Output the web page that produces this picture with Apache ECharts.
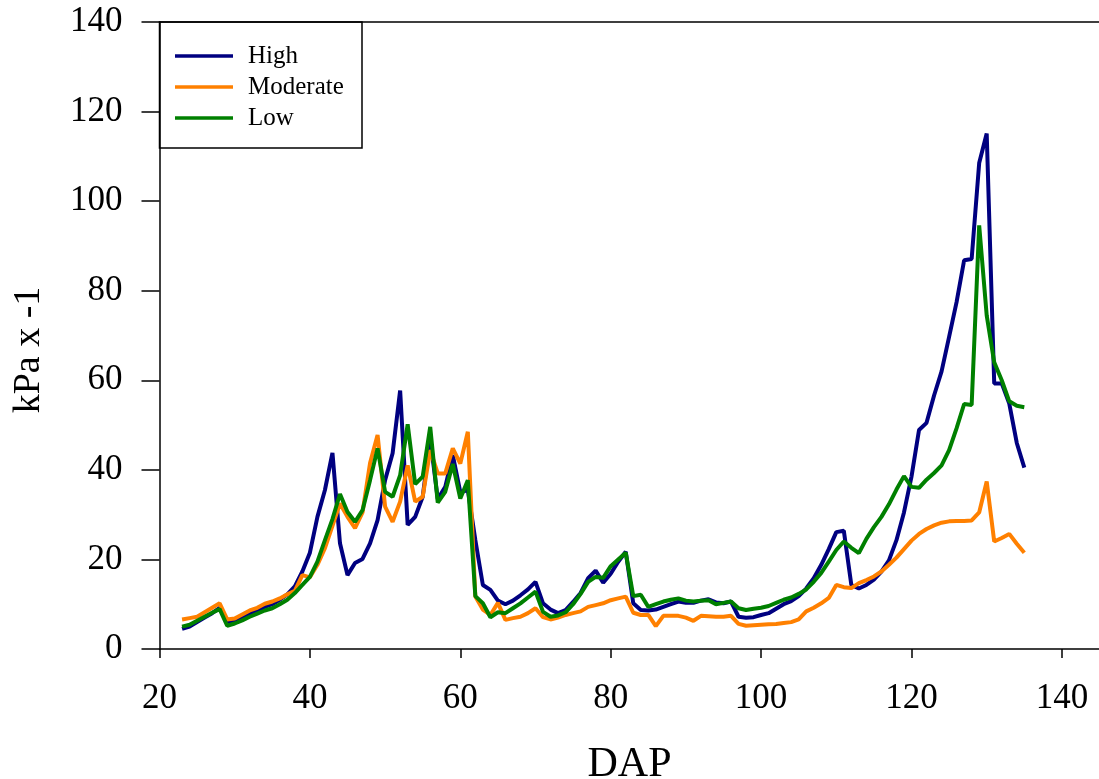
<!DOCTYPE html>
<html>
<head>
<meta charset="utf-8">
<script src="https://cdn.jsdelivr.net/npm/echarts@6/dist/echarts.min.js"></script>
<style>html,body{margin:0;padding:0;background:#fff}#c{width:1099px;height:779px}</style>
</head>
<body>
<div id="c"></div>
<script>
const dap = [23,24,25,26,27,28,29,30,31,32,33,34,35,36,37,38,39,40,41,42,43,44,45,46,47,48,49,50,51,52,53,54,55,56,57,58,59,60,61,62,63,64,65,66,67,68,69,70,71,72,73,74,75,76,77,78,79,80,81,82,83,84,85,86,87,88,89,90,91,92,93,94,95,96,97,98,99,100,101,102,103,104,105,106,107,108,109,110,111,112,113,114,115,116,117,118,119,120,121,122,123,124,125,126,127,128,129,130,131,132,133,134,135];
const high = [4.5,5.0,6.0,7.0,8.0,9.2,6.0,6.2,7.0,7.8,8.6,9.4,10.0,11.0,12.2,14.0,17.3,21.5,29.5,35.5,43.8,23.6,16.5,19.2,20.1,23.6,28.8,37.7,43.7,57.7,27.7,29.5,34.0,47.0,33.5,36.2,43.3,35.0,35.5,24.3,14.3,13.2,10.8,10.0,10.8,12.0,13.3,15.0,10.2,8.8,8.0,8.7,10.5,12.5,15.8,17.5,14.8,16.8,19.5,21.7,10.2,8.7,8.6,8.8,9.4,10.0,10.6,10.3,10.3,10.8,11.1,10.4,10.2,10.6,7.2,7.0,7.1,7.6,8.0,9.0,10.0,10.7,11.8,13.5,15.8,18.8,22.3,26.1,26.4,14.3,13.5,14.3,15.5,17.3,19.8,24.3,30.5,38.5,48.9,50.5,56.6,62.0,69.7,77.5,86.8,87.1,108.5,115.1,59.3,59.3,54.8,46.0,40.5];
const moderate = [6.6,6.9,7.2,8.2,9.2,10.2,6.6,6.8,7.7,8.6,9.2,10.1,10.6,11.3,12.2,13.0,16.5,16.0,18.8,22.5,27.5,32.5,29.5,27.0,30.5,41.5,47.8,31.8,28.4,32.9,41.0,32.9,34.0,44.4,39.2,39.2,44.8,41.4,48.5,11.7,8.8,7.6,10.3,6.5,6.9,7.2,8.0,9.1,7.1,6.6,7.0,7.6,8.0,8.4,9.4,9.8,10.2,10.9,11.3,11.7,8.1,7.6,7.6,5.1,7.4,7.4,7.4,7.0,6.3,7.4,7.3,7.2,7.2,7.4,5.6,5.2,5.3,5.4,5.5,5.6,5.8,6.0,6.6,8.4,9.2,10.2,11.4,14.3,13.8,13.6,14.7,15.4,16.2,17.3,18.8,20.4,22.3,24.2,25.7,26.8,27.6,28.2,28.5,28.6,28.6,28.7,30.5,37.4,24.0,24.8,25.7,23.5,21.5];
const low = [5.0,5.4,6.3,7.2,8.1,8.9,5.2,5.7,6.4,7.2,7.9,8.6,9.1,10.0,11.0,12.5,14.3,16.1,19.5,24.3,29.0,34.6,30.6,28.4,31.0,37.7,44.8,35.1,34.0,38.8,50.2,36.8,38.5,49.6,32.7,35.1,41.3,33.6,37.7,11.8,10.2,7.1,8.2,8.0,9.1,10.2,11.5,12.8,8.3,7.2,7.5,8.2,10.0,12.3,15.0,16.1,15.9,18.5,20.0,21.5,11.8,12.1,9.4,10.0,10.6,11.0,11.3,10.8,10.6,10.8,10.9,10.0,10.3,10.6,9.1,8.7,9.0,9.2,9.6,10.3,11.0,11.5,12.3,13.3,15.0,17.0,19.5,22.1,24.0,22.6,21.4,24.6,27.2,29.5,32.3,35.6,38.6,36.2,36.0,37.8,39.3,41.0,44.4,49.3,54.7,54.5,94.6,74.5,64.0,60.0,55.3,54.3,54.0];
const xTicks = [20,40,60,80,100,120,140];
const seriesNames = ['High','Moderate','Low'];
const seriesColors = ['#000080','#ff8000','#008000'];
const seriesData = [high, moderate, low];

const font = 'Liberation Serif, Times New Roman, serif';
const chart = echarts.init(document.getElementById('c'), null, {renderer:'canvas'});
chart.setOption({
  animation: false,
  backgroundColor: '#fff',
  grid: {left: 159.5, top: 22, width: 940, height: 627, containLabel: false, outerBoundsMode: 'none'},
  xAxis: [{
    type: 'value', min: 20, max: 145, interval: 20,
    name: 'DAP', nameLocation: 'middle', nameGap: 95,
    nameTextStyle: {fontFamily: font, fontSize: 42, color: '#000'},
    axisLine: {show: true, lineStyle: {color: '#000', width: 1.5}},
    axisTick: {show: true, inside: false, length: 9, customValues: xTicks, lineStyle: {color: '#000', width: 1.5}},
    axisLabel: {customValues: xTicks, fontFamily: font, fontSize: 35, color: '#000', margin: 32},
    splitLine: {show: false}
  },{
    type: 'value', min: 20, max: 145, position: 'top',
    axisLine: {show: true, lineStyle: {color: '#000', width: 1.5}},
    axisTick: {show: false}, axisLabel: {show: false}, splitLine: {show: false}
  }],
  yAxis: {
    type: 'value', min: 0, max: 140, interval: 20,
    axisLine: {show: true, lineStyle: {color: '#000', width: 1.5}},
    axisTick: {show: true, inside: false, length: 18, lineStyle: {color: '#000', width: 1.5}},
    axisLabel: {fontFamily: font, fontSize: 35, color: '#000', margin: 37},
    splitLine: {show: false}
  },
  legend: {
    orient: 'vertical', left: 175, top: 43.5, padding: 0,
    itemWidth: 58, itemHeight: 3.5, itemGap: 6,
    textStyle: {fontFamily: font, fontSize: 25, color: '#000', lineHeight: 25, padding: [0, 0, 0, 10]},
    data: seriesNames.map(n => ({name: n, icon: 'rect'})),
    itemStyle: {borderWidth: 0}
  },
  graphic: [
    {type: 'rect', z: 0, shape: {x: 159.5, y: 22, width: 202.5, height: 126}, style: {fill: '#fff', stroke: '#000', lineWidth: 1.5}},
    {type: 'text', z: 10, x: 29, y: 350, rotation: Math.PI/2,
     style: {text: 'kPa x -1', fontFamily: font, fontSize: 38, fill: '#000', align: 'center', verticalAlign: 'middle'}}
  ],
  series: seriesNames.map((n, i) => ({
    name: n, type: 'line', symbol: 'none', smooth: false,
    data: dap.map((d, k) => [d, seriesData[i][k]]),
    lineStyle: {color: seriesColors[i], width: 4},
    itemStyle: {color: seriesColors[i]},
    z: 3 + i
  }))
});
</script>
</body>
</html>
